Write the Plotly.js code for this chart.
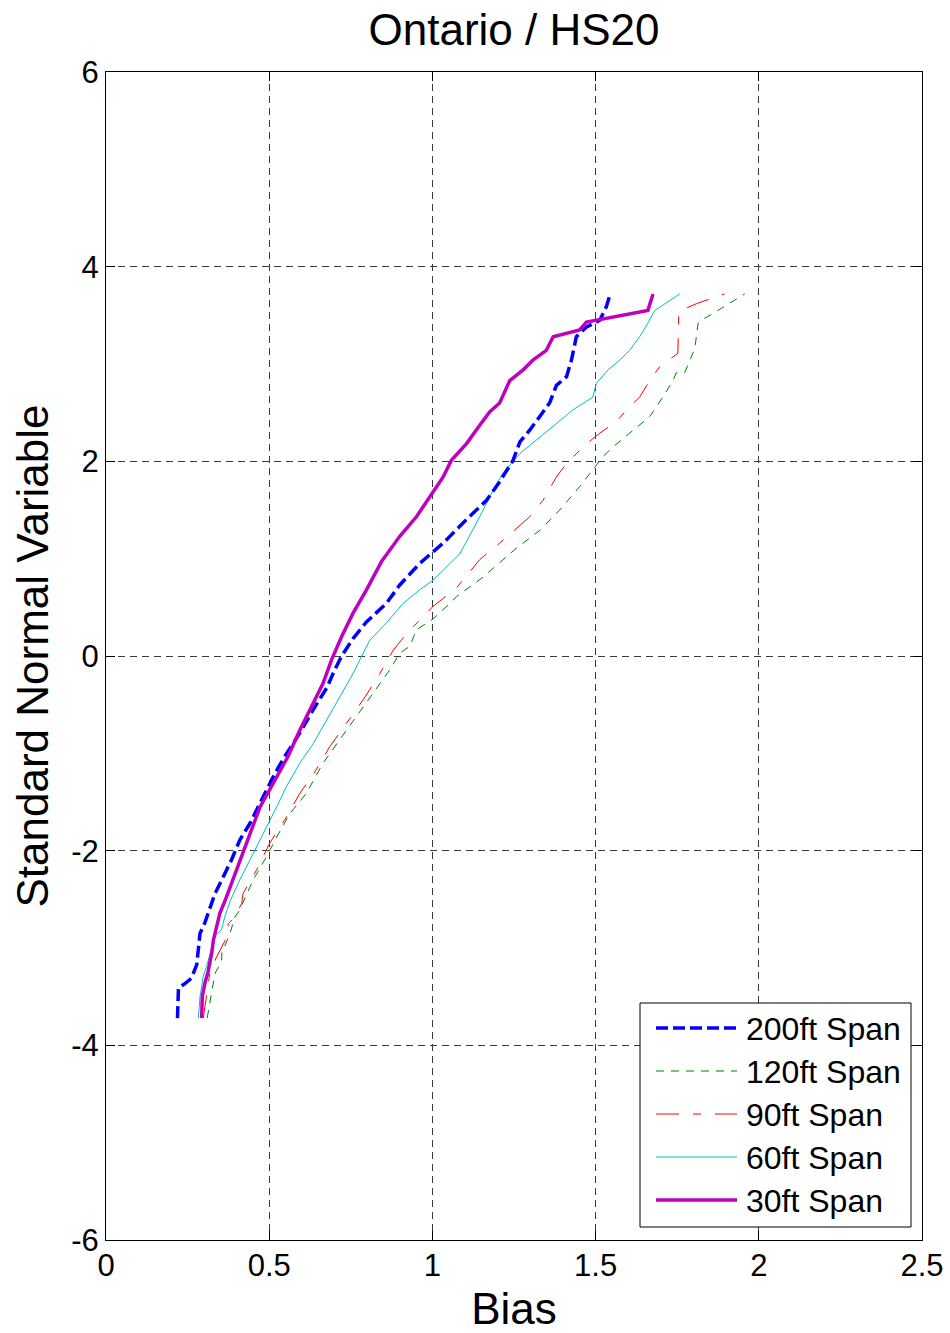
<!DOCTYPE html>
<html>
<head>
<meta charset="utf-8">
<script src="https://cdn.plot.ly/plotly-3.0.1.min.js"></script>
<style>
  html, body { margin: 0; padding: 0; background: #fff; }
  #chart { width: 950px; height: 1333px; }
</style>
</head>
<body>
<div id="chart"></div>
<script>
// Bias distributions plotted against the standard normal variable, one curve per span length.

const span200Bias = [0.219, 0.222, 0.240, 0.262, 0.278, 0.283, 0.288, 0.303, 0.313, 0.324, 0.334, 0.359, 0.385, 0.410, 0.441, 0.472, 0.492, 0.517, 0.548, 0.594, 0.635, 0.676, 0.701, 0.722, 0.757, 0.798, 0.859, 0.900, 0.961, 1.033, 1.104, 1.166, 1.206, 1.247, 1.268, 1.298, 1.329, 1.359, 1.380, 1.411, 1.426, 1.441, 1.472, 1.513, 1.533, 1.545];
const span200Z    = [-3.72, -3.41, -3.37, -3.31, -3.17, -3.02, -2.85, -2.74, -2.64, -2.52, -2.44, -2.27, -2.09, -1.89, -1.72, -1.51, -1.38, -1.21, -1.03, -0.79, -0.55, -0.33, -0.14, 0.00, 0.18, 0.35, 0.54, 0.73, 0.95, 1.16, 1.40, 1.60, 1.79, 2.01, 2.20, 2.32, 2.46, 2.60, 2.78, 2.87, 3.04, 3.28, 3.38, 3.45, 3.59, 3.72];

const span120Bias = [0.310, 0.334, 0.354, 0.355, 0.380, 0.395, 0.410, 0.416, 0.451, 0.492, 0.523, 0.563, 0.614, 0.665, 0.716, 0.768, 0.818, 0.870, 0.900, 0.931, 0.951, 1.002, 1.053, 1.074, 1.155, 1.258, 1.329, 1.390, 1.451, 1.492, 1.523, 1.554, 1.625, 1.666, 1.706, 1.737, 1.747, 1.773, 1.783, 1.804, 1.814, 1.824, 1.860, 1.957];
const span120Z    = [-3.72, -3.26, -3.14, -3.05, -2.85, -2.68, -2.61, -2.56, -2.30, -2.06, -1.86, -1.62, -1.41, -1.10, -0.86, -0.62, -0.38, -0.14, 0.03, 0.10, 0.27, 0.38, 0.54, 0.61, 0.81, 1.11, 1.29, 1.50, 1.74, 1.91, 2.05, 2.15, 2.35, 2.46, 2.66, 2.83, 2.91, 2.91, 2.99, 3.16, 3.42, 3.45, 3.52, 3.72];

const span90Bias = [0.298, 0.318, 0.339, 0.364, 0.375, 0.395, 0.416, 0.420, 0.461, 0.502, 0.548, 0.594, 0.640, 0.686, 0.737, 0.788, 0.839, 0.880, 0.931, 0.941, 1.002, 1.074, 1.145, 1.206, 1.298, 1.339, 1.380, 1.411, 1.472, 1.513, 1.564, 1.604, 1.635, 1.666, 1.696, 1.727, 1.752, 1.755, 1.809, 1.895];
const span90Z    = [-3.72, -3.26, -3.09, -2.93, -2.75, -2.68, -2.54, -2.44, -2.20, -1.92, -1.68, -1.41, -1.19, -0.93, -0.69, -0.45, -0.18, 0.06, 0.27, 0.30, 0.51, 0.70, 0.99, 1.16, 1.43, 1.60, 1.84, 1.98, 2.18, 2.29, 2.41, 2.56, 2.66, 2.83, 2.97, 3.05, 3.11, 3.54, 3.62, 3.72];

const span60Bias = [0.283, 0.288, 0.298, 0.308, 0.334, 0.354, 0.364, 0.380, 0.410, 0.451, 0.492, 0.523, 0.553, 0.594, 0.635, 0.676, 0.716, 0.757, 0.788, 0.808, 0.859, 0.910, 0.961, 1.002, 1.084, 1.145, 1.176, 1.216, 1.268, 1.329, 1.380, 1.431, 1.492, 1.502, 1.538, 1.574, 1.604, 1.635, 1.660, 1.681, 1.758];
const span60Z    = [-3.72, -3.50, -3.29, -3.19, -2.88, -2.81, -2.68, -2.52, -2.30, -2.03, -1.75, -1.55, -1.34, -1.10, -0.90, -0.66, -0.42, -0.18, 0.03, 0.16, 0.34, 0.54, 0.68, 0.78, 1.05, 1.43, 1.64, 1.88, 2.08, 2.25, 2.39, 2.53, 2.66, 2.80, 2.94, 3.04, 3.14, 3.28, 3.42, 3.55, 3.72];

const span30Bias = [0.293, 0.295, 0.303, 0.313, 0.324, 0.329, 0.339, 0.349, 0.364, 0.385, 0.410, 0.441, 0.472, 0.512, 0.558, 0.594, 0.630, 0.665, 0.691, 0.722, 0.757, 0.798, 0.844, 0.900, 0.951, 1.002, 1.033, 1.058, 1.104, 1.145, 1.176, 1.206, 1.222, 1.237, 1.278, 1.308, 1.349, 1.370, 1.451, 1.472, 1.660, 1.676];
const span30Z    = [-3.72, -3.50, -3.36, -3.24, -3.05, -2.92, -2.78, -2.64, -2.52, -2.33, -2.09, -1.82, -1.55, -1.31, -1.03, -0.76, -0.52, -0.28, -0.04, 0.20, 0.44, 0.68, 0.97, 1.23, 1.43, 1.69, 1.84, 2.01, 2.18, 2.37, 2.51, 2.60, 2.73, 2.83, 2.94, 3.04, 3.14, 3.28, 3.35, 3.43, 3.55, 3.72];

const seriesNames = ['200ft Span', '120ft Span', '90ft Span', '60ft Span', '30ft Span'];

const xTickVals = [0, 0.5, 1, 1.5, 2, 2.5];
const xTickText = ['0', '0.5', '1', '1.5', '2', '2.5'];
const yTickVals = [-6, -4, -2, 0, 2, 4, 6];
const yTickText = ['-6', '-4', '-2', '0', '2', '4', '6'];

// line styling per curve
const styles = [
  { color: '#0000FF', width: 3.5, dash: '12px,5px' },
  { color: '#008000', width: 1,   dash: '8px,7px' },
  { color: '#FF0000', width: 1,   dash: '23px,14px,8px,14px' },
  { color: '#00BFBF', width: 1,   dash: 'solid' },
  { color: '#BF00BF', width: 3.5, dash: 'solid' }
];

const xs = [span200Bias, span120Bias, span90Bias, span60Bias, span30Bias];
const ys = [span200Z, span120Z, span90Z, span60Z, span30Z];

// draw order: thin curves first, thick ones on top
const drawOrder = [3, 2, 1, 0, 4];
const traces = drawOrder.map(i => ({
  type: 'scatter',
  mode: 'lines',
  name: seriesNames[i],
  x: xs[i],
  y: ys[i],
  line: { color: styles[i].color, width: styles[i].width, dash: styles[i].dash },
  showlegend: false,
  hoverinfo: 'skip'
}));

const FONT = 'Liberation Sans, Arial, Helvetica, sans-serif';

// boxed legend in the lower right corner of the axes
const plotL = 106, plotR = 922, plotT = 72, plotB = 1240;
const pw = plotR - plotL, ph = plotB - plotT;
const px = v => (v - plotL) / pw;
const py = v => (plotB - v) / ph;

const shapes = [{
  type: 'rect', xref: 'paper', yref: 'paper',
  x0: px(640), x1: px(911), y0: py(1227), y1: py(1003),
  line: { color: '#000', width: 1 }, fillcolor: '#fff', layer: 'above'
}];
const annotations = [];
seriesNames.forEach((name, i) => {
  const rowY = 1028 + i * 43;
  shapes.push({
    type: 'line', xref: 'paper', yref: 'paper',
    x0: px(656), x1: px(737), y0: py(rowY), y1: py(rowY),
    line: { color: styles[i].color, width: styles[i].width, dash: styles[i].dash },
    layer: 'above'
  });
  annotations.push({
    xref: 'paper', yref: 'paper', x: px(744), y: py(rowY + 1),
    xanchor: 'left', yanchor: 'middle', showarrow: false,
    text: name, font: { family: FONT, size: 32, color: '#000' }
  });
});

const axisCommon = {
  showline: true, linecolor: '#000', linewidth: 1, mirror: 'allticks',
  ticks: 'inside', ticklen: 9, tickwidth: 1, tickcolor: '#000',
  showgrid: true, gridcolor: '#3a3a3a', gridwidth: 1, griddash: '7px,5px',
  zeroline: false, tickmode: 'array',
  tickfont: { family: FONT, size: 31, color: '#000' },
  automargin: false
};

const layout = {
  width: 950, height: 1333,
  margin: { l: plotL, r: 950 - plotR, t: plotT, b: 1333 - plotB, pad: 0 },
  paper_bgcolor: '#fff', plot_bgcolor: '#fff',
  font: { family: FONT, color: '#000' },
  title: {
    text: 'Ontario / HS20',
    font: { family: FONT, size: 44, color: '#000' },
    x: 0.5, xref: 'paper', xanchor: 'center',
    y: 1 - 30 / 1333, yref: 'container', yanchor: 'middle'
  },
  xaxis: Object.assign({}, axisCommon, {
    range: [0, 2.5], tickvals: xTickVals, ticktext: xTickText,
    ticklabelstandoff: -2,
    title: { text: 'Bias', font: { family: FONT, size: 44, color: '#000' }, standoff: 18 }
  }),
  yaxis: Object.assign({}, axisCommon, {
    range: [-6, 6], tickvals: yTickVals, ticktext: yTickText,
    ticklabelstandoff: 0,
    title: { text: 'Standard Normal Variable', font: { family: FONT, size: 44, color: '#000' }, standoff: 8 }
  }),
  showlegend: false,
  shapes: shapes,
  annotations: annotations
};

Plotly.newPlot('chart', traces, layout, { staticPlot: true, displayModeBar: false });
</script>
</body>
</html>
